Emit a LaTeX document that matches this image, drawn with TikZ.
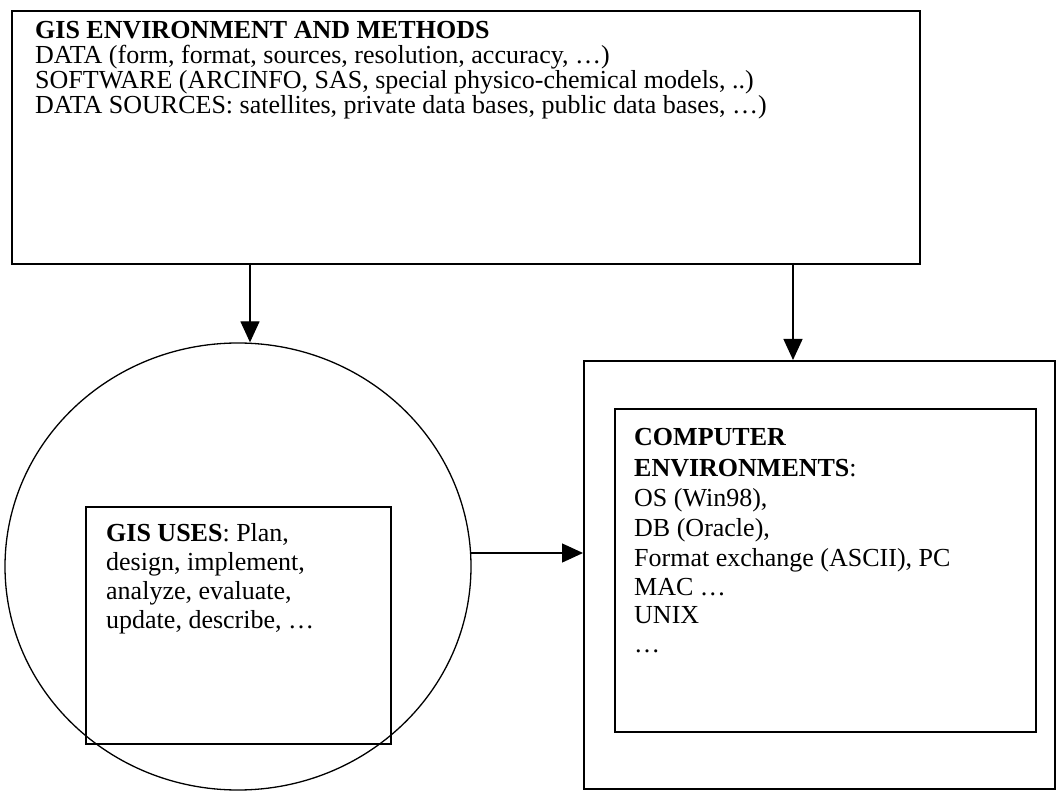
\documentclass[tikz,border=0pt]{standalone}
\usepackage{fontspec}
\setmainfont{Liberation Serif}
\usetikzlibrary{arrows.meta,shapes.geometric}
\begin{document}
\begin{tikzpicture}[x=1pt,y=-1pt,
  frame/.style={draw=black,line width=1.6pt,inner sep=0pt,anchor=north west},
  txt/.style={anchor=base west,inner sep=0pt,font=\fontsize{26}{30}\selectfont},
  link/.style={draw=black,line width=1.3pt,-{Triangle[length=21pt,width=19pt]}}]
\useasboundingbox (0,0) rectangle (1058,791);
\fill[white] (0,0) rectangle (1058,791);

% boxes
\node[frame,minimum width=908pt,minimum height=253pt] (env) at (11,10) {};
\node[draw=black,line width=1.3pt,ellipse,inner sep=0pt,minimum width=466pt,minimum height=447pt] (uses) at (238,566.5) {};
\node[frame,minimum width=305pt,minimum height=237pt] (usebox) at (85,506) {};
\node[frame,minimum width=471pt,minimum height=428pt] (outer) at (583,360) {};
\node[frame,minimum width=421pt,minimum height=323pt] (comp) at (614,408) {};

% GIS environment text
\node[txt] (e1) at (35,39) {\textbf{GIS ENVIRONMENT AND METHODS}};
\node[txt] (e2) at (35,64) {DATA (form, format, sources, resolution, accuracy, \dots)};
\node[txt] (e3) at (35,89) {SOFTWARE (ARCINFO, SAS, special physico-chemical models, ..)};
\node[txt] (e4) at (35,114) {DATA SOURCES: satellites, private data bases, public data bases, \dots)};

% GIS uses text
\node[txt] (u1) at (106,541) {\textbf{GIS USES}: Plan,};
\node[txt] (u2) at (106,570) {design, implement,};
\node[txt] (u3) at (106,599) {analyze, evaluate,};
\node[txt] (u4) at (106,628) {update, describe, \dots};

% computer environments text
\node[txt] (c1) at (634,446) {\textbf{COMPUTER}};
\node[txt] (c2) at (634,476) {\textbf{ENVIRONMENTS}:};
\node[txt] (c3) at (634,506) {OS (Win98),};
\node[txt] (c4) at (634,536) {DB (Oracle),};
\node[txt] (c5) at (634,566) {Format exchange (ASCII), PC};
\node[txt] (c6) at (634,595) {MAC \dots};
\node[txt] (c7) at (634,623) {UNIX};
\node[txt] (c8) at (634,652) {\dots};

% connectors
\coordinate (a1) at (250,263);
\coordinate (a2) at (793,263);
\coordinate (a3) at (471,553);
\draw[link] (a1) -- (a1 |- uses.north);
\draw[link] (a2) -- (a2 |- outer.north);
\draw[link] (a3) -- (a3 -| outer.west);
\end{tikzpicture}
\end{document}
